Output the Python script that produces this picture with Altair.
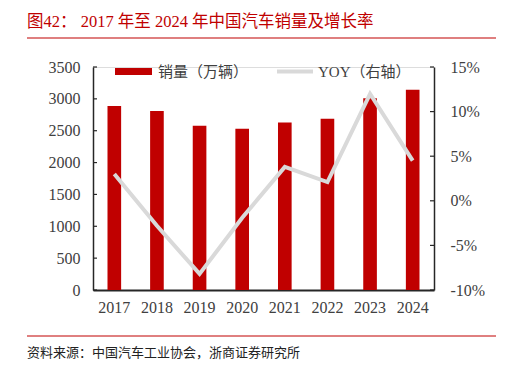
import altair as alt
import pandas as pd

years = ["2017", "2018", "2019", "2020", "2021", "2022", "2023", "2024"]
sales = [2888, 2808, 2577, 2531, 2628, 2686, 3009, 3144]
yoy = [3.0, -2.8, -8.2, -1.9, 3.8, 2.1, 12.0, 4.5]
left_ticks = [0, 500, 1000, 1500, 2000, 2500, 3000, 3500]
right_ticks = [-10, -5, 0, 5, 10, 15]
title_text = "图42：  2017 年至 2024 年中国汽车销量及增长率"
source_text = "资料来源：中国汽车工业协会，浙商证券研究所"
legend_bar = "销量（万辆）"
legend_line = "YOY（右轴）"

FONT = "Liberation Serif, Times New Roman, Noto Sans CJK SC"
RED = "#C00000"
GREY = "#D9D9D9"
AX = "#262626"
W, H = 341, 223

df = pd.DataFrame({"year": years, "sales": sales, "yoy": yoy})
lt = pd.DataFrame({"v": left_ticks})
rt = pd.DataFrame({"v": right_ticks})

xenc = alt.X("year:N", sort=years, title=None,
             scale=alt.Scale(paddingInner=0.68, paddingOuter=0.34),
             axis=alt.Axis(labelAngle=0, ticks=False, domainColor=AX, domainWidth=2,
                           labelFont=FONT, labelFontSize=16, labelColor="#404040",
                           labelPadding=9))

yl_scale = alt.Scale(domain=[0, 3500], nice=False)
yr_scale = alt.Scale(domain=[-10, 15], nice=False)

left_axis = alt.Axis(values=left_ticks, format="d", labelOverlap=False,
                     ticks=False, grid=False, domainColor=AX,
                     domainWidth=1.5, labelFont=FONT, labelFontSize=16,
                     labelColor="#404040", labelPadding=13)
right_axis = alt.Axis(orient="right", values=right_ticks, labelOverlap=False,
                      ticks=False, grid=False,
                      domainColor=AX, domainWidth=1.5, labelFont=FONT,
                      labelFontSize=16, labelColor="#404040", labelPadding=16,
                      labelExpr="datum.value + '%'")

bars = alt.Chart(df).mark_bar(color=RED).encode(
    x=xenc,
    y=alt.Y("sales:Q", scale=yl_scale, title=None, axis=left_axis),
)
lticks = alt.Chart(lt).mark_rule(color=AX, strokeWidth=1.2).encode(
    y=alt.Y("v:Q", scale=yl_scale, title=None, axis=left_axis),
    x=alt.value(0), x2=alt.value(4))
left = alt.layer(bars, lticks)

line = alt.Chart(df).mark_line(color=GREY, strokeWidth=4).encode(
    x=alt.X("year:N", sort=years),
    y=alt.Y("yoy:Q", scale=yr_scale, title=None, axis=right_axis),
)
rticks = alt.Chart(rt).mark_rule(color=AX, strokeWidth=1.2).encode(
    y=alt.Y("v:Q", scale=yr_scale, title=None, axis=right_axis),
    x=alt.value(W - 4), x2=alt.value(W))
right = alt.layer(line, rticks)

one = alt.Data(values=[{"a": 1}])

def txt(s, x, y, size, color, align="left"):
    return alt.Chart(pd.DataFrame({"t": [s]})).mark_text(
        font=FONT, fontSize=size, color=color, align=align, baseline="middle"
    ).encode(text="t:N", x=alt.value(x), y=alt.value(y))

title = txt(title_text, -66, -45, 16.5, RED)
tline = alt.Chart(one).mark_rule(color=RED, strokeWidth=1.2).encode(
    x=alt.value(-66), x2=alt.value(403), y=alt.value(-29))
fline = alt.Chart(one).mark_rule(color=RED, strokeWidth=1).encode(
    x=alt.value(-66), x2=alt.value(403), y=alt.value(269))
source = txt(source_text, -66, 286, 13, "#222222")

leg_rect = alt.Chart(one).mark_rect(color=RED).encode(
    x=alt.value(22), x2=alt.value(59), y=alt.value(1), y2=alt.value(8))
leg_t1 = txt(legend_bar, 65, 4.5, 15, "#404040")
leg_line = alt.Chart(one).mark_rule(color=GREY, strokeWidth=4).encode(
    x=alt.value(184), x2=alt.value(220), y=alt.value(4.5))
leg_t2 = txt(legend_line, 225, 4.5, 15, "#404040")

chart = alt.layer(
    alt.layer(left, right).resolve_scale(y="independent"),
    title, tline, fline, source, leg_rect, leg_t1, leg_line, leg_t2,
).properties(
    width=W, height=H,
    autosize=alt.AutoSizeParams(type="none"),
    padding={"left": 85, "top": 59, "right": 70, "bottom": 70},
).configure_view(stroke=None).configure(background="white")

chart.save("out.html", embed_options={"renderer": "svg", "actions": False})
